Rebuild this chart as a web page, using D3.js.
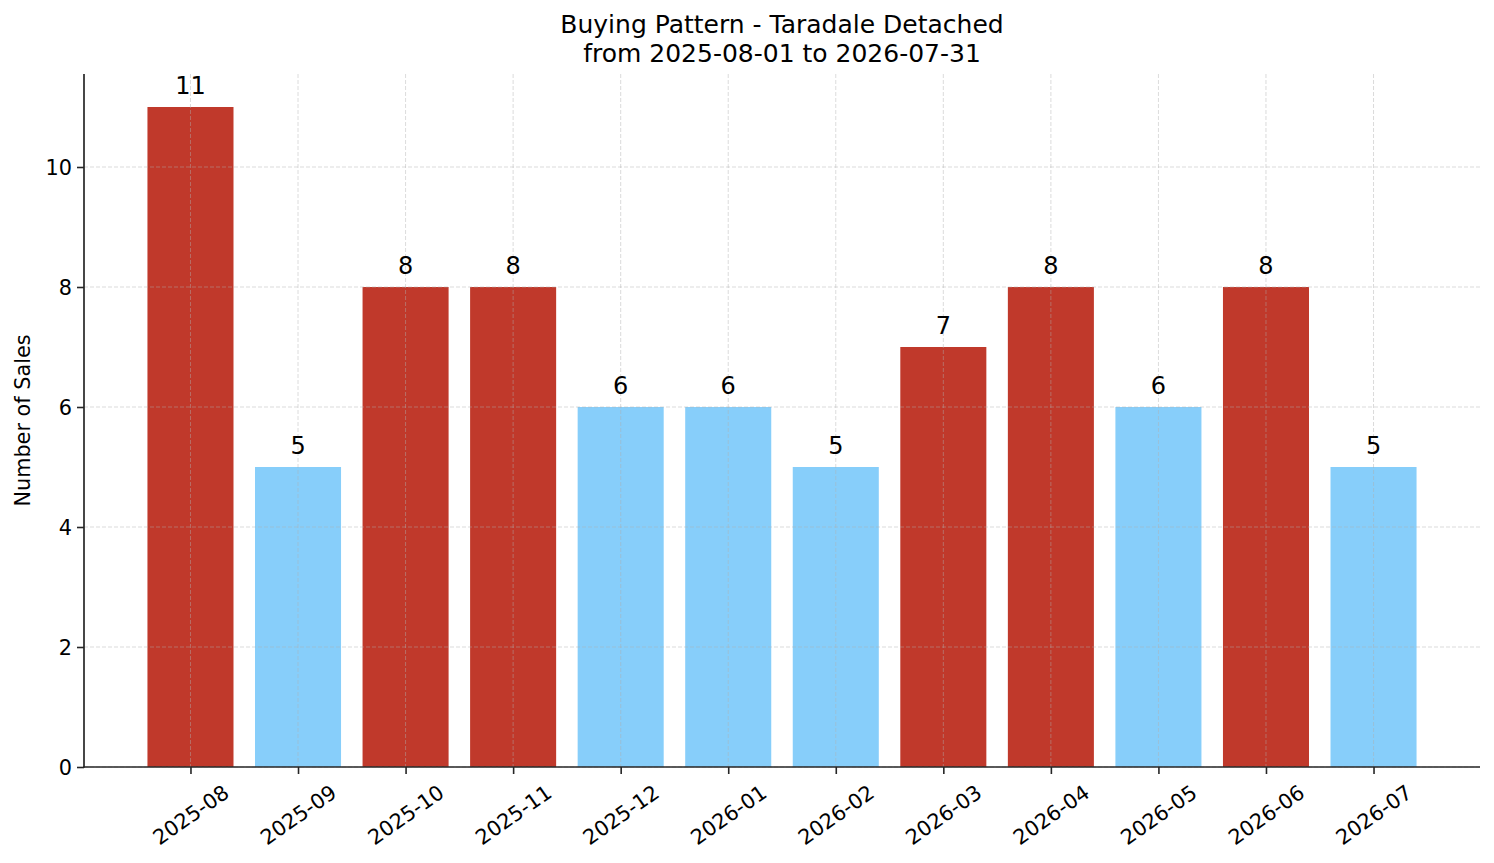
<!DOCTYPE html>
<html><head><meta charset="utf-8">
<script src="https://cdn.jsdelivr.net/npm/d3@7"></script>
<style>html,body{margin:0;padding:0;background:#fff;}svg{display:block;font-family:"DejaVu Sans",sans-serif;}</style>
</head><body>
<svg id="chart" width="1494" height="863"></svg>
<script>
const months = ["2025-08","2025-09","2025-10","2025-11","2025-12","2026-01","2026-02","2026-03","2026-04","2026-05","2026-06","2026-07"];
const sales = [11,5,8,8,6,6,5,7,8,6,8,5];
const yTicks = [0,2,4,6,8,10];
const titleLines = ["Buying Pattern - Taradale Detached","from 2025-08-01 to 2026-07-31"];
const yLabel = "Number of Sales";

const W = 1494, H = 863;
const m = {left:84, right:1480, top:74, bottom:767};
const svg = d3.select("#chart");
const mean = d3.mean(sales);
const n = months.length;

const x = d3.scaleLinear().domain([-0.99, n - 1 + 0.99]).range([m.left, m.right]);
const y = d3.scaleLinear().domain([0, 11.55]).range([m.bottom, m.top]);
const bw = x(0.8) - x(0);

// bars
svg.append("g").selectAll("rect").data(sales).join("rect")
  .attr("x", (d,i)=>x(i-0.4)).attr("width", bw)
  .attr("y", d=>y(d)).attr("height", d=>y(0)-y(d))
  .attr("fill", d=> d > mean ? "#C0392B" : "#87CEFA");

// grid
const grid = svg.append("g").attr("stroke","#b0b0b0").attr("stroke-opacity",0.5)
  .attr("stroke-width",0.9).attr("stroke-dasharray","4,2");
grid.selectAll("line.gx").data(months).join("line").attr("class","gx")
  .attr("x1",(d,i)=>x(i)).attr("x2",(d,i)=>x(i)).attr("y1",m.top).attr("y2",m.bottom);
grid.selectAll("line.gy").data(yTicks).join("line").attr("class","gy")
  .attr("x1",m.left).attr("x2",m.right).attr("y1",d=>y(d)).attr("y2",d=>y(d));

// axes
const axisColor = "#262626";
const yAxis = svg.append("g").attr("transform",`translate(${m.left},0)`)
  .call(d3.axisLeft(y).tickValues(yTicks).tickSize(7).tickPadding(5).tickFormat(d3.format("d")));
const xAxis = svg.append("g").attr("transform",`translate(0,${m.bottom})`)
  .call(d3.axisBottom(x).tickValues(d3.range(n)).tickSize(7).tickFormat(i=>months[i]));
[yAxis, xAxis].forEach(g=>{
  g.select(".domain").remove();
  g.selectAll(".tick line").attr("stroke",axisColor).attr("stroke-width",1.6);
  g.selectAll("text").attr("fill","#000").style("font-size","20.8px").style("font-family","DejaVu Sans");
});
yAxis.selectAll("text").attr("dy","0.36em");
xAxis.selectAll("text").attr("y",null).attr("dy",null)
  .attr("text-anchor","middle").attr("dominant-baseline","central")
  .attr("transform","translate(0,48) rotate(-35)");
// spines
svg.append("line").attr("x1",m.left).attr("x2",m.left).attr("y1",m.top).attr("y2",m.bottom+0.8)
  .attr("stroke",axisColor).attr("stroke-width",1.7);
svg.append("line").attr("x1",m.left-0.8).attr("x2",m.right).attr("y1",m.bottom).attr("y2",m.bottom)
  .attr("stroke",axisColor).attr("stroke-width",1.7);

// bar labels
svg.append("g").selectAll("text").data(sales).join("text")
  .attr("x",(d,i)=>x(i)).attr("y",d=>y(d)-13)
  .attr("text-anchor","middle").style("font-size","24px").attr("fill","#000")
  .text(d=>d);

// title
svg.append("text").attr("x",(m.left+m.right)/2).attr("y",33)
  .attr("text-anchor","middle").style("font-size","25px")
  .selectAll("tspan").data(titleLines).join("tspan")
  .attr("x",(m.left+m.right)/2).attr("dy",(d,i)=>i===0?0:29).text(d=>d);

// y label
svg.append("text").attr("transform",`translate(30,${(m.top+m.bottom)/2}) rotate(-90)`)
  .attr("text-anchor","middle").style("font-size","20.8px").text(yLabel);
</script>
</body></html>
